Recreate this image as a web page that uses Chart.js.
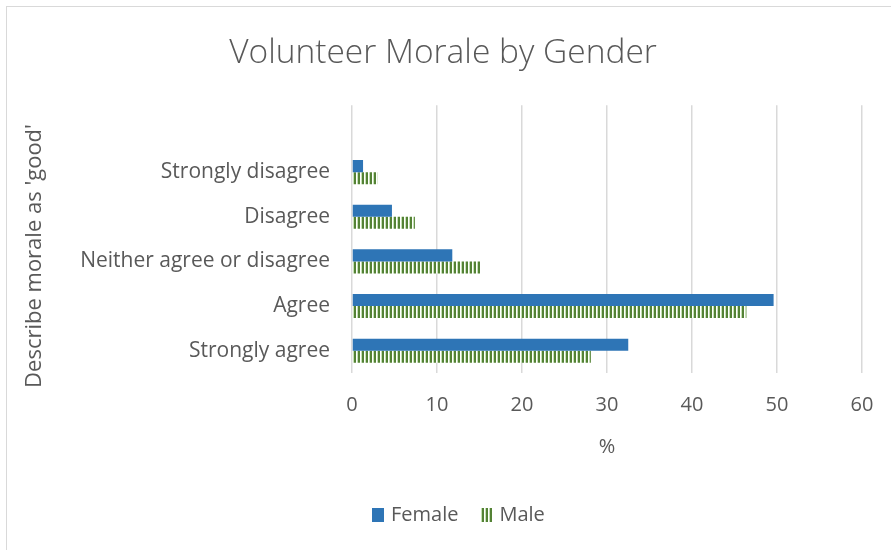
<!DOCTYPE html>
<html>
<head>
<meta charset="utf-8">
<script src="https://cdn.jsdelivr.net/npm/chart.js@4/dist/chart.umd.min.js"></script>
<style>
  body { margin: 0; background: #fff; }
  #wrap { position: relative; width: 891px; height: 550px; overflow: hidden; }
  #frame { position: absolute; left: 6px; top: 6px; width: 900px; height: 560px; border: 1px solid #d9d9d9; }
  canvas { position: absolute; left: 0; top: 0; }
</style>
</head>
<body>
<div id="wrap"><div id="frame"></div><canvas id="moraleChart" width="891" height="550"></canvas></div>
<script>
// answer categories, top row left blank as in the survey sheet
const categories = ["", "Strongly disagree", "Disagree", "Neither agree or disagree", "Agree", "Strongly agree"];
const femalePct = [null, 1.3, 4.7, 11.8, 49.6, 32.5];
const malePct = [null, 3.0, 7.4, 15.1, 46.4, 28.1];
const xTicks = [0, 10, 20, 30, 40, 50, 60];
const yTitle = "Describe morale as 'good'";

const textColor = "#595959";
const fontFamily = "'Open Sans', sans-serif";

// vertical green stripes for the male series
function stripePattern() {
    const c = document.createElement("canvas");
    c.width = 4; c.height = 4;
    const g = c.getContext("2d");
    g.fillStyle = "#ffffff"; g.fillRect(0, 0, 4, 4);
    g.fillStyle = "#c5e0b4"; g.fillRect(1, 0, 1, 4);
    g.fillStyle = "#548235"; g.fillRect(2, 0, 2, 4);
    return g.createPattern(c, "repeat");
}

// y axis title and a one-row legend under the axis
const extras = {
    id: "extras",
    afterDraw(chart) {
        const ctx = chart.ctx;
        ctx.save();
        ctx.fillStyle = textColor;
        ctx.font = "22px " + fontFamily;
        ctx.textAlign = "center";
        ctx.textBaseline = "middle";
        ctx.translate(35, 256);
        ctx.rotate(-Math.PI / 2);
        ctx.fillText(yTitle, 0, 0);
        ctx.restore();

        const y = 515;
        let x = 372;
        ctx.save();
        ctx.font = "20px " + fontFamily;
        ctx.textBaseline = "middle";
        chart.data.datasets.forEach(ds => {
            ctx.fillStyle = ds.backgroundColor;
            ctx.fillRect(x, y - 7, 12, 14);
            x += 19;
            ctx.fillStyle = textColor;
            ctx.fillText(ds.label, x, y);
            x += ctx.measureText(ds.label).width + 22;
        });
        ctx.restore();
    }
};

const ctx = document.getElementById("moraleChart").getContext("2d");
new Chart(ctx, {
    type: "bar",
    data: {
        labels: categories,
        datasets: [
            { label: "Female", data: femalePct, backgroundColor: "#2e75b6" },
            { label: "Male", data: malePct, backgroundColor: stripePattern() }
        ]
    },
    options: {
        indexAxis: "y",
        responsive: false,
        animation: false,
        categoryPercentage: 0.54,
        barPercentage: 1,
        layout: { padding: { left: 24, right: 29, top: 0, bottom: 87 } },
        plugins: {
            legend: { display: false },
            tooltip: { enabled: false },
            title: {
                display: true,
                text: "Volunteer Morale by Gender",
                color: textColor,
                font: { family: fontFamily, size: 33.5, weight: "300" },
                padding: { top: 33, bottom: 32 }
            }
        },
        scales: {
            x: {
                min: 0, max: 60,
                afterBuildTicks: s => { s.ticks = xTicks.map(v => ({ value: v })); },
                afterFit: s => { s.height = 90; s.paddingLeft = 0; s.paddingRight = 0; },
                ticks: { color: textColor, font: { family: fontFamily, size: 20 }, padding: 20 },
                grid: { color: "#d9d9d9", lineWidth: 1.5, drawTicks: false },
                border: { display: false },
                title: { display: true, text: "%", color: textColor, font: { family: fontFamily, size: 20 }, padding: { top: 7 } }
            },
            y: {
                afterFit: s => { s.width = 352 - 24; },
                ticks: { color: textColor, font: { family: fontFamily, size: 21 }, padding: 22 },
                grid: { display: false, drawTicks: false },
                border: { display: false }
            }
        }
    },
    plugins: [extras]
});
</script>
</body>
</html>
